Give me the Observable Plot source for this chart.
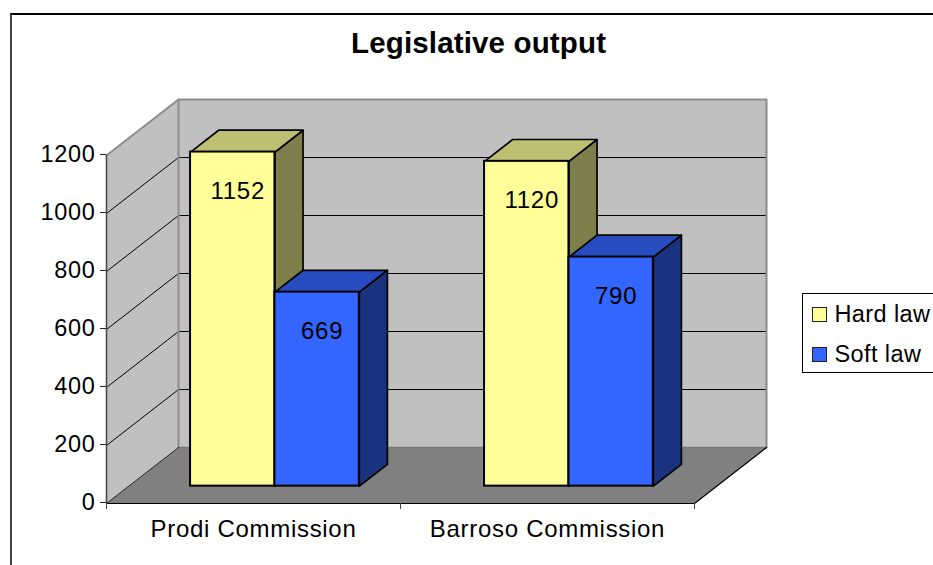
<!DOCTYPE html>
<html>
<head>
<meta charset="utf-8">
<script src="https://cdn.jsdelivr.net/npm/d3@7"></script>
<script src="https://cdn.jsdelivr.net/npm/@observablehq/plot@0.6"></script>
<style>
html, body { margin: 0; padding: 0; background: #fff; width: 933px; height: 565px; overflow: hidden; }
body { position: relative; font-family: "Liberation Sans", Arial, sans-serif; color: #000; }
#chart { position: absolute; left: 0; top: 0; }
#chart svg { display: block; background: transparent; }
#chart text { letter-spacing: 0.7px; }
#frame { position: absolute; left: 9.5px; top: 13px; width: 940px; height: 570px; border-top: 2px solid #000; border-left: 2px solid #444; box-sizing: border-box; }
#title { position: absolute; left: 351px; top: 26px; font-size: 29.5px; font-weight: bold; letter-spacing: 0.15px; white-space: nowrap; line-height: 34px; }
#legend { position: absolute; left: 802px; top: 293px; width: 140px; height: 80px; border: 1px solid #000; box-sizing: border-box; background: #fff; }
#legend .row { position: absolute; left: 9px; display: flex; align-items: center; font-size: 23.5px; letter-spacing: 0.4px; white-space: nowrap; height: 28px; }
#legend .sw { width: 13px; height: 13px; border: 1.5px solid #222; margin-right: 7.5px; box-sizing: content-box; }
</style>
</head>
<body>
<div id="frame"></div>
<div id="chart"></div>
<div id="title">Legislative output</div>
<div id="legend"></div>
<script>
// Data
const categories = ["Prodi Commission", "Barroso Commission"];
const seriesNames = ["Hard law", "Soft law"];
const hardLaw = [1152, 1120];
const softLaw = [669, 790];
const yTicks = [0, 200, 400, 600, 800, 1000, 1200];

// Colours: front, top, side for each series; chart walls and floor
const seriesColors = ["#FFFF99", "#3366FF"];
const topColors = ["#BFBF73", "#264CBF"];
const sideColors = ["#7F7F4C", "#19337F"];
const wallColor = "#C0C0C0";
const floorColor = "#808080";

// Oblique projection: moving "depth" from 0 to 1 shifts a point in data units
const depthX = 72 / 294;
const depthY = 56 / 0.29;
const barWidth = 0.287;
const barStart = 0.21;
const barDepthFront = 0.31;
const barDepthBack = 0.70;
const wallTop = 1200;

const pt = (x, v, d = 0) => ({x: x + depthX * d, y: v + depthY * d});
const faces = [];
function face(id, fill, points) {
  [...points, points[0]].forEach((p) => faces.push({id, fill, x: p.x, y: p.y}));
}

const bars = [];
categories.forEach((c, i) => {
  [hardLaw[i], softLaw[i]].forEach((value, s) => {
    const x1 = i + barStart + s * barWidth;
    bars.push({category: c, series: seriesNames[s], s, value, x1, x2: x1 + barWidth});
  });
});

const n = categories.length;
const backFaces = [];
const wall = (id, fill, pts) => { const start = faces.length; face(id, fill, pts); backFaces.push(...faces.splice(start)); };
wall("left", wallColor, [pt(0, 0), pt(0, 0, 1), pt(0, wallTop, 1), pt(0, wallTop)]);
wall("back", wallColor, [pt(0, 0, 1), pt(n, 0, 1), pt(n, wallTop, 1), pt(0, wallTop, 1)]);
wall("floor", floorColor, [pt(0, 0), pt(n, 0), pt(n, 0, 1), pt(0, 0, 1)]);

bars.forEach((b, k) => {
  face(`side${k}`, sideColors[b.s], [
    pt(b.x2, 0, barDepthFront), pt(b.x2, 0, barDepthBack),
    pt(b.x2, b.value, barDepthBack), pt(b.x2, b.value, barDepthFront)]);
  face(`top${k}`, topColors[b.s], [
    pt(b.x1, b.value, barDepthFront), pt(b.x2, b.value, barDepthFront),
    pt(b.x2, b.value, barDepthBack), pt(b.x1, b.value, barDepthBack)]);
});

const gridTicks = yTicks.filter((t) => t > 0 && t < wallTop);
const gridLeft = gridTicks.flatMap((t) => [{t, ...pt(0, t)}, {t, ...pt(0, t, 1)}, {t, ...pt(n, t, 1)}]);

const fx = barDepthFront * depthX, fy = barDepthFront * depthY;

const plot = Plot.plot({
  width: 933,
  height: 565,
  marginLeft: 106,
  marginRight: 239,
  marginTop: 155,
  marginBottom: 62,
  style: {fontFamily: "'Liberation Sans', Arial, sans-serif", background: "transparent", overflow: "visible"},
  x: {domain: [0, n], axis: null},
  y: {domain: [0, 1200], axis: null},
  color: {type: "identity"},
  marks: [
    // walls and floor
    Plot.line(backFaces, {x: "x", y: "y", z: "id", fill: "fill", stroke: "none"}),
    // grid lines on side wall and back wall
    Plot.line(gridLeft, {x: "x", y: "y", z: "t", stroke: "#000", strokeWidth: 1}),
    // grey wall edges
    Plot.line([pt(0, wallTop), pt(0, wallTop, 1), pt(n, wallTop, 1), pt(n, 0, 1)],
      {x: "x", y: "y", stroke: "#8c8c8c", strokeWidth: 2}),
    Plot.line([pt(0, 0, 1), pt(0, wallTop, 1)], {x: "x", y: "y", stroke: "#8c8c8c", strokeWidth: 2}),
    Plot.line([pt(0, 0, 1), pt(n, 0, 1)], {x: "x", y: "y", stroke: "#777", strokeWidth: 1.5}),
    // floor front edges
    Plot.line([pt(0, 0), pt(n, 0), pt(n, 0, 1)], {x: "x", y: "y", stroke: "#000", strokeWidth: 1.2}),
    Plot.line([pt(0, 0), pt(0, 0, 1)], {x: "x", y: "y", stroke: "#000", strokeWidth: 0.8}),
    // axes
    Plot.ruleX([0], {y1: 0, y2: 1200, stroke: "#444", strokeWidth: 1.5}),
    Plot.axisY({ticks: yTicks, tickSize: 6, tickPadding: 5, fontSize: 23.5, dy: -1, label: null, stroke: "#222", tickFormat: (d) => String(d)}),
    Plot.axisX({ticks: [0, 1, 2], tickSize: 6, tickFormat: () => "", label: null, stroke: "#444"}),
    Plot.axisX({ticks: [0.5, 1.5], tickSize: 0, tickPadding: 16, fontSize: 24, label: null, tickFormat: (d) => categories[Math.floor(d)]}),
    // bar sides and tops
    Plot.line(faces, {x: "x", y: "y", z: "id", fill: "fill", stroke: "#000", strokeWidth: 1.7, strokeLinejoin: "round"}),
    // bar fronts
    Plot.rect(bars, {
      x1: (d) => d.x1 + fx, x2: (d) => d.x2 + fx,
      y1: fy, y2: (d) => d.value + fy,
      fill: (d) => seriesColors[d.s],
      stroke: "#000", strokeWidth: 2
    }),
    // value labels
    Plot.text(bars, {
      x: (d) => (d.x1 + d.x2) / 2 + fx,
      y: (d) => d.value + fy,
      text: (d) => String(d.value),
      dx: 5, dy: 39, fontSize: 24, fill: "#000"
    })
  ]
});
document.getElementById("chart").append(plot);

const legend = document.getElementById("legend");
seriesNames.forEach((name, i) => {
  const row = document.createElement("div");
  row.className = "row";
  row.style.top = (6 + i * 40) + "px";
  const sw = document.createElement("span");
  sw.className = "sw";
  sw.style.background = seriesColors[i];
  row.append(sw, document.createTextNode(name));
  legend.append(row);
});
</script>
</body>
</html>
